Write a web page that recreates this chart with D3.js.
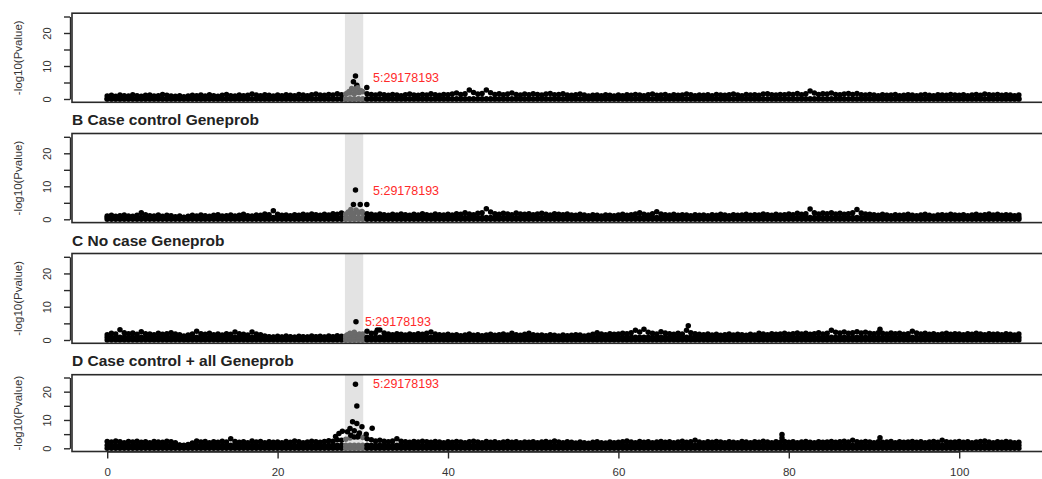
<!DOCTYPE html>
<html lang="en">
<head>
<meta charset="UTF-8">
<title>Manhattan chr5</title>
<script src="https://d3js.org/d3.v7.min.js"></script>
<style>
  body { margin:0; background:#fff; }
  text { font-family: "Liberation Sans", Arial, sans-serif; }
</style>
</head>
<body>
<script>
// panel titles (panel A title is above the cropped picture)
var titles = ['', 'B Case control Geneprob', 'C No case Geneprob', 'D Case control + all Geneprob'];
var xTicks = [0, 20, 40, 60, 80, 100];
var yTicks = [0, 5, 10, 15, 20, 25];
var yTickLabels = ['0', '', '10', '', '20', ''];
var hitLabel = '5:29178193';
var hitRegion = [27.9, 30.05];     // highlighted window, Mb
var binStep = 0.5;                 // Mb between envelope readings

// upper envelope of the -log10(P) cloud, one reading per 0.5 Mb from 0 to 107
var topA = [0.9,1.1,0.8,1.2,1.0,0.9,1.3,1.0,0.8,1.1, 1.2,0.9,1.0,1.4,1.1,0.9,0.8,1.0,0.7,0.9,
  1.1,1.0,1.2,0.9,1.3,1.0,0.8,1.1,1.4,1.0, 0.9,1.2,1.0,1.1,1.5,1.2,1.0,1.3,1.1,0.9,
  1.2,1.0,1.3,1.1,1.0,1.4,1.2,1.0,1.3,1.5, 1.2,1.1,1.4,1.2,1.6,1.3,1.5,1.8,1.6,2.0,
  2.2,1.6,1.4,1.2,1.5,1.3,1.1,1.4,1.2,1.0, 1.3,1.5,1.2,1.1,1.4,1.2,1.6,1.3,1.1,1.4,
  1.3,1.5,1.8,1.4,1.6,2.7,2.0,1.5,1.7,2.7, 1.9,1.4,1.6,1.3,1.5,1.8,1.4,1.2,1.5,1.3,
  1.6,1.4,1.2,1.5,1.7,1.3,1.4,1.6,1.2,1.1, 1.3,1.5,1.2,0.9,1.1,1.2,1.0,1.3,1.1,0.9,
  1.2,1.0,1.3,1.1,1.4,1.2,1.0,1.3,1.5,1.1, 1.2,1.4,1.0,1.3,1.1,1.2,1.5,1.3,1.0,1.2,
  1.1,1.3,1.0,1.4,1.2,1.1,1.3,1.5,1.2,1.0, 1.4,1.2,1.3,1.1,1.5,1.6,1.3,1.2,1.4,1.3,
  1.5,1.4,1.7,1.3,1.6,2.4,1.8,1.4,1.6,1.5, 1.8,1.4,1.3,1.5,1.7,1.4,1.7,1.3,1.2,1.4,
  1.2,1.0,1.3,1.1,1.2,1.4,1.0,1.1,1.3,1.2, 1.0,1.2,1.4,1.1,1.0,1.3,1.2,1.1,1.4,1.2,
  1.1,1.3,1.0,1.2,1.4,1.1,1.5,1.3,1.2,1.4, 1.1,1.3,1.2,1.0,1.2];
var topB = [1.0,1.2,0.9,1.1,1.3,1.0,0.9,1.2,2.0,1.4, 1.1,1.0,1.3,0.9,1.2,1.1,0.8,1.0,0.6,0.9,
  1.2,1.0,1.3,1.1,0.9,1.2,1.4,1.0,1.1,1.3, 1.0,1.2,1.5,1.1,1.0,1.3,1.2,1.6,1.4,2.6,
  1.5,1.2,1.3,1.1,1.4,1.2,1.5,1.3,1.6,1.4, 1.2,1.5,1.3,1.7,1.5,1.9,1.6,2.0,1.8,2.2,
  2.0,1.7,1.5,1.3,1.6,1.4,1.2,1.5,1.3,1.6, 1.4,1.2,1.5,1.3,1.7,1.4,1.2,1.6,1.4,1.3,
  1.5,1.3,1.7,1.5,2.0,1.6,1.4,1.8,2.0,3.2, 2.2,1.7,1.5,1.8,1.6,1.4,1.9,1.6,1.5,1.7,
  1.4,1.6,1.8,1.5,1.3,1.7,1.5,1.4,1.6,1.3, 1.2,1.5,1.3,1.1,1.4,1.2,1.0,1.3,1.2,1.1,
  1.3,1.5,1.2,1.4,1.6,2.0,1.5,1.3,1.7,2.3, 1.6,1.4,1.3,1.5,1.2,1.4,1.3,1.1,1.4,1.2,
  1.3,1.1,1.4,1.2,1.5,1.3,1.1,1.4,1.2,1.3, 1.5,1.2,1.4,1.3,1.6,1.4,1.2,1.5,1.3,1.4,
  1.6,1.4,1.8,1.5,1.7,3.1,2.0,1.6,1.9,1.7, 2.0,1.6,1.8,1.5,1.7,2.0,3.0,1.9,1.6,1.5,
  1.4,1.2,1.5,1.3,1.1,1.4,1.2,1.3,1.5,1.2, 1.1,1.3,1.5,1.2,1.0,1.3,1.4,1.2,1.5,1.3,
  1.2,1.4,1.1,1.3,1.5,1.2,1.4,1.6,1.3,1.5, 1.2,1.4,1.3,1.1,1.3];
var topC = [1.6,2.0,1.8,3.1,2.2,1.9,2.1,1.7,2.5,1.9, 1.8,1.6,2.0,1.7,1.9,2.2,1.8,1.6,1.2,1.5,
  1.8,2.6,1.9,1.7,2.0,1.6,1.8,1.5,1.9,1.7, 2.4,1.9,1.7,1.5,2.4,1.8,1.6,1.2,1.0,0.9,
  1.1,0.9,1.2,1.0,0.8,1.1,1.0,0.9,1.2,1.0, 1.1,0.9,1.2,1.0,1.3,1.1,1.2,1.4,1.6,1.5,
  1.8,2.6,2.0,2.2,3.0,2.1,1.8,1.6,1.9,1.7, 1.5,1.8,1.6,1.9,1.7,2.0,2.4,1.8,1.6,1.5,
  1.7,1.4,1.6,1.3,1.5,1.8,1.4,1.6,1.3,1.5, 1.7,1.4,1.6,1.8,1.5,2.0,1.6,1.4,1.7,2.0,
  1.6,1.4,1.5,1.3,1.6,1.4,1.2,1.5,1.3,1.4, 1.6,1.5,1.2,1.4,1.7,2.2,1.8,1.6,1.9,1.7,
  1.8,2.0,1.9,2.2,2.9,2.4,3.2,2.3,2.0,1.8, 2.5,2.1,1.9,1.7,2.0,1.8,2.9,2.2,1.9,1.7,
  1.6,1.8,1.5,1.7,1.4,1.6,1.8,1.5,1.7,1.6, 1.4,1.7,1.5,2.0,1.8,1.6,1.9,1.7,1.8,2.0,
  1.7,1.9,2.1,1.8,2.0,1.7,1.9,2.2,1.8,2.0, 2.9,2.3,2.1,2.4,2.0,2.2,2.5,2.1,2.3,2.0,
  1.9,2.2,2.0,1.8,2.1,1.9,2.0,1.7,1.9,2.6, 2.1,1.8,2.0,1.7,1.9,1.6,1.8,2.0,1.7,1.9,
  1.8,1.6,1.9,1.7,2.0,1.8,1.6,1.9,1.7,1.8, 1.6,1.9,1.7,1.5,1.8];
var topD = [2.4,2.2,2.6,2.3,2.0,2.4,2.2,2.5,2.1,2.3, 2.0,2.4,2.2,2.1,2.5,2.3,2.0,1.2,0.9,1.3,
  1.9,2.6,2.2,2.4,2.0,2.3,2.1,2.5,2.2,3.4, 2.4,2.1,2.3,2.0,2.6,2.2,2.4,2.0,2.3,2.1,
  2.2,2.0,2.4,2.1,2.6,2.3,2.0,2.2,2.5,2.3, 2.1,2.4,2.7,2.5,3.0,2.8,3.2,3.6,4.0,4.5,
  3.8,3.4,3.0,2.6,2.8,2.5,2.3,2.6,3.4,2.5, 2.3,2.1,2.4,2.2,2.5,2.3,2.1,2.4,2.2,2.0,
  2.3,2.1,2.4,2.2,2.0,2.3,2.5,2.2,2.0,2.4, 2.1,2.3,2.0,2.2,2.4,2.1,2.3,2.0,2.2,2.1,
  2.3,2.0,2.2,2.4,2.1,2.6,2.2,2.0,2.3,2.1, 1.9,2.2,2.0,1.8,2.1,2.3,2.0,1.9,2.2,2.0,
  2.1,2.3,2.6,2.2,2.0,2.4,2.1,2.3,2.0,2.2, 2.4,2.1,2.3,2.0,2.2,2.5,2.1,2.3,2.8,2.2,
  2.0,2.3,2.1,2.4,2.2,2.0,2.3,2.1,2.0,2.4, 2.2,2.0,2.3,2.1,2.5,2.2,2.0,2.3,2.1,2.4,
  2.1,2.3,2.0,2.2,2.4,2.1,2.0,2.3,2.1,2.2, 2.4,2.1,2.3,2.5,2.2,2.8,2.3,2.1,2.4,2.2,
  2.0,2.3,2.1,2.2,2.4,2.0,2.3,2.1,2.2,2.4, 2.1,2.3,2.0,2.2,2.4,2.1,2.8,2.3,2.1,2.2,
  2.4,2.1,2.3,2.0,2.2,2.4,2.6,2.2,2.0,2.3, 2.1,2.4,2.2,2.0,2.1];

// dense core of the cloud (-log10 P) under the envelope
var coreLevel = [0, 0.55, 0.8, 1.1];

// single SNPs standing out of the cloud: [Mb, -log10 P]
var hitsA = [[29.14,7.0],[28.9,5.2],[29.3,4.2],[28.7,3.2],[29.0,2.8],[28.4,2.3],[29.6,2.0],[28.2,1.8],[29.8,2.5],[30.47,3.5],[29.4,3.4]];
var hitsB = [[29.14,8.9],[28.9,4.5],[29.7,4.5],[30.47,4.5],[28.6,3.0],[29.2,2.8],[28.3,2.2],[29.5,2.0],[28.8,1.6],[29.9,2.4]];
var hitsC = [[29.2,5.5],[31.7,3.0],[28.5,2.0],[29.0,2.3],[29.6,1.8],[28.2,1.6],[68.2,4.3],[90.7,3.2]];
var hitsD = [[29.14,22.6],[29.3,14.9],[28.8,9.4],[29.3,8.8],[29.9,7.6],[31.1,7.1],[28.5,7.0],[29.0,6.2],[29.6,5.4],[28.2,5.8],
  [28.6,4.6],[29.4,4.0],[27.2,5.2],[26.8,4.2],[27.6,6.0],[30.4,5.0],[79.2,4.9],[79.2,3.6],[90.7,3.7]];

// where the SNP label sits: [Mb, -log10 P]
var labelPos = [[31.2,6.4],[31.2,8.7],[30.25,5.4],[31.2,22.7]];

var tops = [topA, topB, topC, topD];
var hits = [hitsA, hitsB, hitsC, hitsD];

// layout of the four stacked panels (pixels)
var panels = [
  {y0: 99,    y25: 16.5,  top: 13.2,  bottom: 102.3},
  {y0: 219.3, y25: 136.8, top: 133.5, bottom: 222.6},
  {y0: 340,   y25: 256.8, top: 253.5, bottom: 343.3},
  {y0: 448.3, y25: 377.5, top: 374.7, bottom: 451.5}
];
var titleY = [0, 125, 246, 366];
var boxLeft = 72, boxRight = 1056;

var svg = d3.select('body')
    .append('svg')
    .attr('width', 1042)
    .attr('height', 479);

var xscale = d3.scaleLinear()
    .domain([0, 100])
    .range([107.2, 959.2]);

var r = 2.75;

panels.forEach(function (p, k) {
    var yscale = d3.scaleLinear()
        .domain([0, 25])
        .range([p.y0, p.y25]);

    var g = svg.append('g');

    // highlighted window
    g.append('rect')
        .attr('x', xscale(hitRegion[0]))
        .attr('y', p.top)
        .attr('width', xscale(hitRegion[1]) - xscale(hitRegion[0]))
        .attr('height', p.bottom - p.top)
        .attr('fill', '#e3e3e3');

    // cloud points: floor, dense core and envelope for every bin
    var pts = [];
    tops[k].forEach(function (v, i) {
        var x = i * binStep;
        pts.push([x, 0]);
        pts.push([x, coreLevel[k]]);
        pts.push([x, v]);
    });
    hits[k].forEach(function (h) { pts.push(h); });

    g.selectAll('.pt')
        .data(pts)
        .enter()
        .append('circle')
        .attr('class', 'pt')
        .attr('cx', function (d) { return xscale(d[0]); })
        .attr('cy', function (d) { return yscale(d[1]); })
        .attr('r', r)
        .attr('fill', function (d) {
            var inside = d[0] >= hitRegion[0] && d[0] <= hitRegion[1];
            return (inside && d[1] < 4) ? '#6a6a6a' : '#000';
        });

    // frame
    g.append('rect')
        .attr('x', boxLeft)
        .attr('y', p.top)
        .attr('width', boxRight - boxLeft)
        .attr('height', p.bottom - p.top)
        .attr('fill', 'none')
        .attr('stroke', '#2a2a2a')
        .attr('stroke-width', 1.6);

    // y axis
    var yaxis = d3.axisLeft(yscale)
        .tickValues(yTicks)
        .tickSize(6)
        .tickSizeOuter(0)
        .tickFormat(function (d, i) { return yTickLabels[i]; });

    var ya = g.append('g')
        .attr('transform', 'translate(70,0)')
        .call(yaxis);
    ya.select('.domain').attr('stroke', '#2a2a2a').attr('stroke-width', 1.4);
    ya.selectAll('line').attr('stroke', '#2a2a2a').attr('stroke-width', 1.4);
    ya.selectAll('text')
        .attr('x', 0)
        .attr('y', -19)
        .attr('dy', 0)
        .attr('transform', 'rotate(-90)')
        .style('text-anchor', 'middle')
        .style('font-size', '11px')
        .attr('fill', '#333');

    g.append('text')
        .attr('transform', 'translate(22,' + ((p.top + p.bottom) / 2) + ') rotate(-90)')
        .attr('text-anchor', 'middle')
        .style('font-size', '11.5px')
        .attr('fill', '#333')
        .text('-log10(Pvalue)');

    // label of the lead SNP
    g.append('text')
        .attr('x', xscale(labelPos[k][0]))
        .attr('y', yscale(labelPos[k][1]))
        .attr('dy', '0.35em')
        .attr('fill', '#ff2a2a')
        .style('font-size', '12.5px')
        .text(hitLabel);

    if (titles[k]) {
        svg.append('text')
            .attr('x', boxLeft)
            .attr('y', titleY[k])
            .style('font-size', '15.5px')
            .style('font-weight', 'bold')
            .attr('fill', '#222')
            .text(titles[k]);
    }

    if (k === panels.length - 1) {
        var xaxis = d3.axisBottom(xscale)
            .tickValues(xTicks)
            .tickSize(7)
            .tickSizeOuter(0)
            .tickPadding(9);
        var xa = g.append('g')
            .attr('transform', 'translate(0,' + p.bottom + ')')
            .call(xaxis);
        xa.select('.domain').attr('stroke', '#2a2a2a').attr('stroke-width', 1.4);
        xa.selectAll('line').attr('stroke', '#2a2a2a').attr('stroke-width', 1.4);
        xa.selectAll('text').style('font-size', '11.5px').attr('fill', '#333');
    }
});
</script>
</body>
</html>
